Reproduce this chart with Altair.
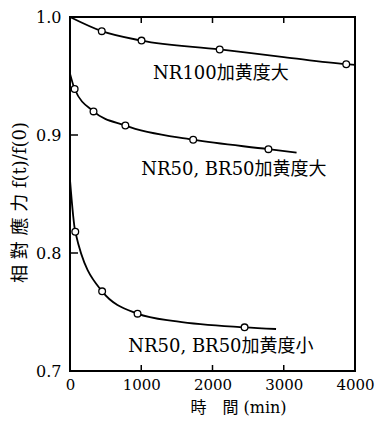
import altair as alt
import pandas as pd

# Curve traces (time in min, relative stress)
c1_t = [0, 446, 1004, 2101, 3000, 3877, 4000]
c1_v = [1.0, 0.988, 0.980, 0.9725, 0.966, 0.960, 0.9595]
c2_t = [0, 65, 330, 777, 1729, 2785, 3180]
c2_v = [0.952, 0.939, 0.920, 0.908, 0.896, 0.888, 0.885]
c3_t = [0, 74, 451, 948, 1500, 2450, 2892]
c3_v = [0.862, 0.818, 0.7675, 0.7486, 0.742, 0.737, 0.7356]

# Measured points (open circles)
p1_t = [446, 1004, 2101, 3877]
p1_v = [0.988, 0.980, 0.9725, 0.960]
p2_t = [65, 330, 777, 1729, 2785]
p2_v = [0.939, 0.920, 0.908, 0.896, 0.888]
p3_t = [74, 451, 948, 2450]
p3_v = [0.818, 0.7675, 0.7486, 0.737]

series = ["NR100加黄度大", "NR50, BR50加黄度大", "NR50, BR50加黄度小"]
label_t = [2118, 2300, 2118]
label_v = [0.9517, 0.870, 0.720]

x_ticks = [0, 1000, 2000, 3000, 4000]
x_inner_ticks = [1000, 2000, 3000]
y_ticks = [0.7, 0.8, 0.9, 1.0]
y_inner_ticks = [0.8, 0.9]

lines = pd.DataFrame(
    [{"s": series[0], "t": t, "v": v} for t, v in zip(c1_t, c1_v)]
    + [{"s": series[1], "t": t, "v": v} for t, v in zip(c2_t, c2_v)]
    + [{"s": series[2], "t": t, "v": v} for t, v in zip(c3_t, c3_v)]
)
pts = pd.DataFrame(
    [{"s": series[0], "t": t, "v": v} for t, v in zip(p1_t, p1_v)]
    + [{"s": series[1], "t": t, "v": v} for t, v in zip(p2_t, p2_v)]
    + [{"s": series[2], "t": t, "v": v} for t, v in zip(p3_t, p3_v)]
)
labels = pd.DataFrame({"s": series, "t": label_t, "v": label_v})

NUMF = "DejaVu Serif"
LABF = "DejaVu Serif, Noto Sans CJK JP, serif"

W = 285
H = 354
xs = alt.Scale(domain=[0, 4000], nice=False, zero=False)
ys = alt.Scale(domain=[0.7, 1.0], nice=False, zero=False)

xaxis = alt.Axis(values=x_ticks, grid=False, domain=False, ticks=False,
                 labelFont=NUMF, labelFontSize=15, labelColor="black",
                 labelPadding=6, format="d", labelFlush=False,
                 title="時　間 (min)", titleFont=LABF, titleFontSize=16,
                 titleFontWeight="normal", titleColor="black", titleX=168, titleY=36,
                 titleBaseline="middle")
yaxis = alt.Axis(values=y_ticks, grid=False, domain=False, ticks=False,
                 labelFont=NUMF, labelFontSize=16, labelColor="black",
                 labelPadding=9, format=".1f", labelFlush=False,
                 title="相 對 應 力  f(t)/f(0)", titleFont=LABF, titleFontSize=18,
                 titleFontWeight="normal", titleColor="black", titleX=-50, titleY=185,
                 titleAngle=270, titleAlign="center", titleBaseline="middle")

line_layer = alt.Chart(lines).mark_line(interpolate="monotone", color="black", strokeWidth=1.8).encode(
    x=alt.X("t:Q", scale=xs, axis=xaxis),
    y=alt.Y("v:Q", scale=ys, axis=yaxis),
    detail="s:N",
)
pt_layer = alt.Chart(pts).mark_point(shape="circle", filled=True, fill="white", stroke="black",
                                     strokeWidth=1.3, size=45, opacity=1).encode(
    x=alt.X("t:Q", scale=xs), y=alt.Y("v:Q", scale=ys)
)
txt_layer = alt.Chart(labels).mark_text(font=LABF, fontSize=18, color="black",
                                        align="center", baseline="middle").encode(
    x=alt.X("t:Q", scale=xs), y=alt.Y("v:Q", scale=ys), text="s:N"
)
xt = pd.DataFrame({"t": x_inner_ticks})
bot_ticks = alt.Chart(xt).mark_rule(color="black", strokeWidth=1.5).encode(
    x=alt.X("t:Q", scale=xs), y=alt.value(H), y2=alt.value(H - 6))
top_ticks = alt.Chart(xt).mark_rule(color="black", strokeWidth=1.5).encode(
    x=alt.X("t:Q", scale=xs), y=alt.value(0), y2=alt.value(6))
yt = pd.DataFrame({"v": y_inner_ticks})
left_ticks = alt.Chart(yt).mark_rule(color="black", strokeWidth=1.5).encode(
    y=alt.Y("v:Q", scale=ys), x=alt.value(0), x2=alt.value(8))

chart = alt.layer(line_layer, pt_layer, txt_layer, bot_ticks, top_ticks, left_ticks).properties(
    width=W, height=H,
    autosize=alt.AutoSizeParams(type="none"),
    padding={"left": 62, "top": 9, "right": 20, "bottom": 45},
    background="white",
).configure_view(stroke="black", strokeWidth=2)

chart.save("out.html", embed_options={"renderer": "svg", "actions": False})
